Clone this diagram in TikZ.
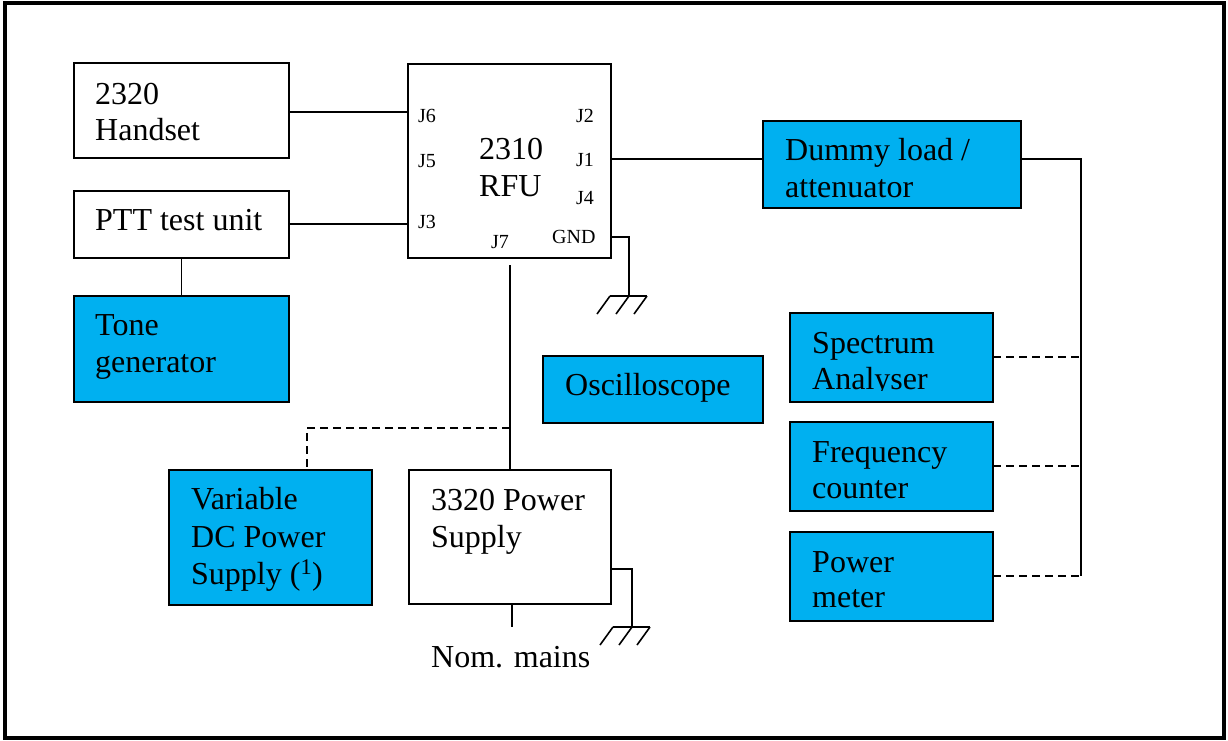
\documentclass[tikz,border=0pt]{standalone}
\usepackage{fontspec}
\setmainfont{Liberation Serif}
\definecolor{boxblue}{HTML}{00B0F0}
\tikzset{
  box/.style={draw=black, line width=1.6pt, rectangle, inner sep=0pt, outer sep=0pt},
  bluebox/.style={box, fill=boxblue},
  big/.style={anchor=base west, inner sep=0pt, font=\fontsize{32}{37}\selectfont},
  small/.style={anchor=base west, inner sep=0pt, font=\fontsize{20}{24}\selectfont},
  wire/.style={line width=1.6pt},
  dwire/.style={line width=1.6pt, dash pattern=on 8pt off 5pt},
  earthsym/.pic={
    \draw[line width=1.6pt] (-19,0) -- (18,0);
    \foreach \d in {-19,0,18} \draw[line width=1.6pt] (\d,0) -- (\d-13,18);
  }
}
\begin{document}
\begin{tikzpicture}[x=1pt,y=-1pt]
\useasboundingbox (0,0) rectangle (1228,740);
\fill[white] (0,0) rectangle (1228,740);
\draw[line width=4pt] (5,2.5) rectangle (1223.5,737.5);

% boxes
\node[box, minimum width=215pt, minimum height=95pt] (hs) at (181.5,110.5) {};
\node[box, minimum width=215pt, minimum height=67pt] (ptt) at (181.5,224.5) {};
\node[bluebox, minimum width=215pt, minimum height=106pt] (tone) at (181.5,349) {};
\node[box, minimum width=203pt, minimum height=194pt] (rfu) at (509.5,161) {};
\node[bluebox, minimum width=258pt, minimum height=87pt] (dummy) at (892,164.5) {};
\node[bluebox, minimum width=203pt, minimum height=89pt] (spec) at (891.5,357.5) {};
\node[bluebox, minimum width=203pt, minimum height=89pt] (freq) at (891.5,466.5) {};
\node[bluebox, minimum width=203pt, minimum height=89pt] (pm) at (891.5,576.5) {};
\node[bluebox, minimum width=220pt, minimum height=67pt] (osc) at (653,389.5) {};
\node[bluebox, minimum width=203pt, minimum height=135pt] (var) at (270.5,537.5) {};
\node[box, minimum width=202pt, minimum height=134pt] (ps) at (510,537) {};

% texts
\node[big] (hs1) at (95,104) {2320};
\node[big] (hs2) at (95,140) {Handset};
\node[big] (ptt1) at (95,230) {PTT test unit};
\node[big] (tone1) at (95,335) {Tone};
\node[big] (tone2) at (95,372) {generator};
\node[big] (rfu1) at (479,159) {2310};
\node[big] (rfu2) at (479,196) {RFU};
\node[small] (lj6) at (418,122) {J6};
\node[small] (lj5) at (418,167) {J5};
\node[small] (lj3) at (418,228) {J3};
\node[small] (lj2) at (576,122) {J2};
\node[small] (lj1) at (576,166) {J1};
\node[small] (lj4) at (576,204) {J4};
\node[small] (lgnd) at (552,243) {GND};
\node[small] (lj7) at (491,248) {J7};
\node[big] (dm1) at (785,160) {Dummy load /};
\node[big] (dm2) at (785,197) {attenuator};
\node[big] (sp1) at (812,353) {Spectrum};
\begin{scope}
\clip (790,313) rectangle (993,390);
\node[big] (sp2) at (812,389) {Analyser};
\end{scope}
\node[big] (fr1) at (812,462) {Frequency};
\node[big] (fr2) at (812,498) {counter};
\node[big] (pm1) at (812,572) {Power};
\node[big] (pm2) at (812,607) {meter};
\node[big] (os1) at (565,395) {Oscilloscope};
\node[big] (va1) at (191,509) {Variable};
\node[big] (va2) at (191,547) {DC Power};
\node[big] (va3) at (191,584) {Supply (\textsuperscript{1})};
\node[big] (ps1) at (431,510) {3320 Power};
\node[big] (ps2) at (431,547) {Supply};
\node[big] (mains) at (431,667) {Nom. mains};

% coordinates
\coordinate (j1) at (611,159);
\coordinate (gndp) at (611,237);
\coordinate (g1) at (629,296);
\coordinate (j7) at (510,265);
\coordinate (tap) at (510,428);
\coordinate (vtop) at (307,470);
\coordinate (bus) at (1081,576);
\coordinate (mainsend) at (512,627);
\coordinate (psg) at (611,569);
\coordinate (g2) at (632,627);

% connectors
\draw[wire] (hs.east |- 0,112) -- (rfu.west |- 0,112);
\draw[wire] (ptt.east |- 0,224) -- (rfu.west |- 0,224);
\draw[wire] (ptt.south) -- (tone.north);
\draw[wire] (j1) -- (j1 -| dummy.west);
\draw[wire] (dummy.east |- j1) -| (bus);
\draw[dwire] (spec.east |- 0,357) -- (bus |- 0,357);
\draw[dwire] (freq.east |- 0,466) -- (bus |- 0,466);
\draw[dwire] (pm.east |- bus) -- (bus);
\draw[wire] (gndp) -| (g1);
\pic at (g1) {earthsym};
\draw[wire] (j7) -- (ps.north);
\draw[dwire] (tap) -| (vtop);
\draw[wire] (ps.south -| mainsend) -- (mainsend);
\draw[wire] (psg) -| (g2);
\pic at (g2) {earthsym};
\end{tikzpicture}
\end{document}
